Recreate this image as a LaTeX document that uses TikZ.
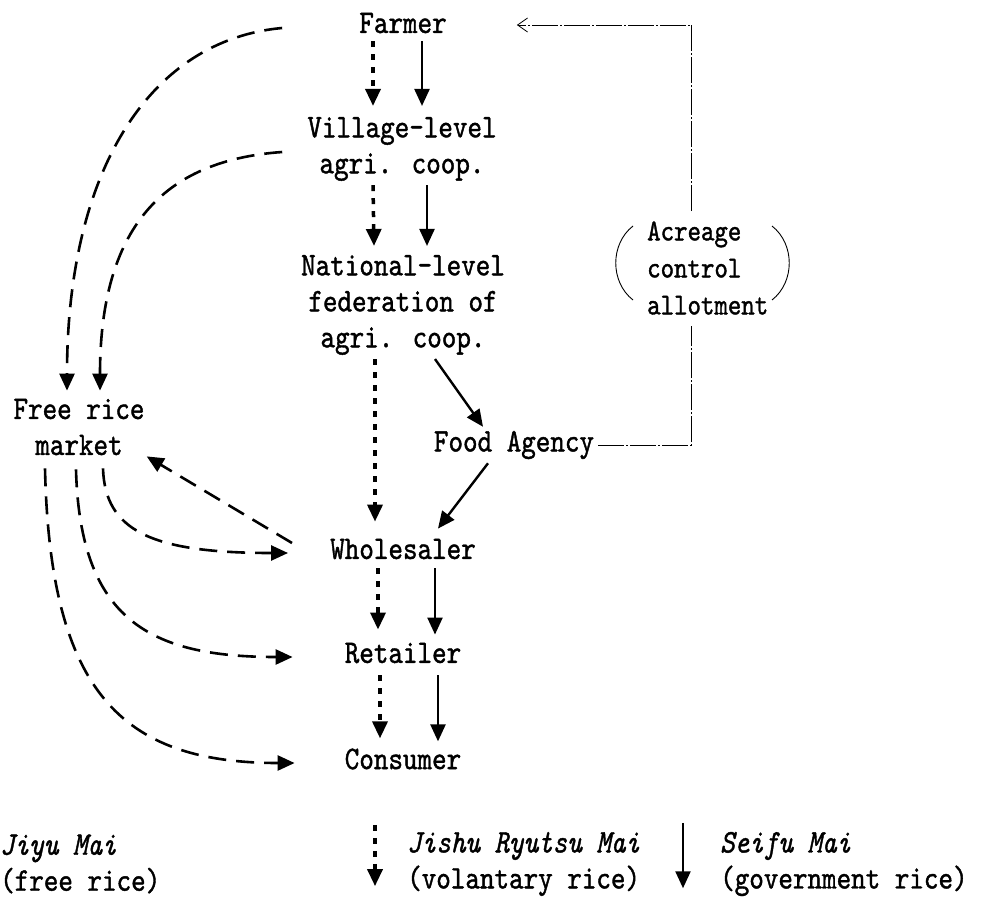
\documentclass[tikz,border=0pt]{standalone}
\usepackage{fontspec}
\newfontfamily\flowfont[ItalicFont=lmmono10-italic.otf,FakeStretch=0.84,FakeBold=1.2]{lmmono10-regular.otf}
\usetikzlibrary{arrows.meta}

\begin{document}
\begin{tikzpicture}[x=1pt,y=-1pt,
  every node/.style={font=\flowfont\fontsize{33}{36}\selectfont,align=center,inner sep=4pt},
  govtflow/.style={line width=2.4pt,-{Triangle[length=17pt,width=15pt]}},
  volflow/.style={line width=3.5pt,dash pattern=on 6pt off 7pt,-{Triangle[length=17pt,width=15pt]}},
  freeflow/.style={line width=2.6pt,dash pattern=on 18pt off 10pt,-{Triangle[length=17pt,width=15pt]}},
  ctrlline/.style={line width=0.8pt,dash pattern=on 26pt off 2pt on 2pt off 2pt},
  bracket/.style={line width=0.9pt}
]
  \useasboundingbox (0,0) rectangle (996,918);

  % channels
  \node (farmer) at (403,23) {Farmer};
  \node (village) at (402,149) {Village-level\\agri. coop.};
  \node (national) at (403,305) {National-level\\federation of\\agri. coop.};
  \node (freerice) at (79,427) {Free rice\\market};
  \node (food) at (514,445) {Food Agency};
  \node (wholesaler) at (403,549) {Wholesaler};
  \node (retailer) at (403,653) {Retailer};
  \node (consumer) at (403,759) {Consumer};
  \node[font=\flowfont\fontsize{30.5}{37}\selectfont,align=left,anchor=west] (acreage)
    at (643,268) {Acreage\\control\\allotment};

  % bracket round the acreage note
  \draw[bracket] (633,226) .. controls (610,244) and (610,282) .. (633,300);
  \draw[bracket] (772,226) .. controls (795,244) and (795,282) .. (772,300);

  % Jishu Ryutsu Mai
  \draw[volflow] ([xshift=-30pt,yshift=-4pt]farmer.south) -- ([xshift=-29pt,yshift=7pt]village.north);
  \draw[volflow] ([xshift=-29pt]village.south) -- ([xshift=-29pt,yshift=5pt]national.north);
  \draw[volflow] ([xshift=-28pt]national.south) -- ([xshift=-28pt,yshift=13pt]wholesaler.north);
  \draw[volflow] ([xshift=-25pt,yshift=-5pt]wholesaler.south) -- ([xshift=-25pt,yshift=9pt]retailer.north);
  \draw[volflow] ([xshift=-23pt,yshift=-8pt]retailer.south) -- ([xshift=-23pt,yshift=6pt]consumer.north);

  % Seifu Mai
  \draw[govtflow] ([xshift=19pt,yshift=-4pt]farmer.south) -- ([xshift=20pt,yshift=7pt]village.north);
  \draw[govtflow] ([xshift=25pt]village.south) -- ([xshift=24pt,yshift=5pt]national.north);
  \draw[govtflow] ([xshift=32pt]national.south) -- ([xshift=-31pt]food.north);
  \draw[govtflow] ([xshift=-26pt]food.south) -- ([xshift=35pt,yshift=6pt]wholesaler.north);
  \draw[govtflow] ([xshift=32pt,yshift=-5pt]wholesaler.south) -- ([xshift=32pt,yshift=4pt]retailer.north);
  \draw[govtflow] ([xshift=35pt,yshift=-8pt]retailer.south) -- ([xshift=35pt,yshift=3pt]consumer.north);

  % Jiyu Mai
  \draw[freeflow] ([xshift=-73pt,yshift=-5pt]farmer.west)
    .. controls (150,40) and (67,170) .. ([xshift=-12pt,yshift=4pt]freerice.north);
  \draw[freeflow] ([xshift=-21pt,yshift=-3pt]village.west)
    .. controls (170,160) and (100,220) .. ([xshift=21pt,yshift=4pt]freerice.north);
  \draw[freeflow] ([xshift=-34pt,yshift=6pt]wholesaler.west) -- ([xshift=-2pt,yshift=3pt]freerice.south east);
  \draw[freeflow] ([xshift=24pt,yshift=-9pt]freerice.south)
    .. controls (105,530) and (150,553) .. ([xshift=-38pt,yshift=-4pt]wholesaler.west);
  \draw[freeflow] ([xshift=-3pt,yshift=-10pt]freerice.south)
    .. controls (80,620) and (150,657) .. ([xshift=-48pt,yshift=-4pt]retailer.west);
  \draw[freeflow] ([xshift=-34pt,yshift=-9pt]freerice.south)
    .. controls (50,690) and (120,763) .. ([xshift=-46pt,yshift=-4pt]consumer.west);

  % acreage control
  \draw[ctrlline] (food.east) -| ([xshift=-16pt,yshift=-7pt]acreage.south);
  \draw[ctrlline,-{Straight Barb[length=10pt,width=14pt]}]
    ([xshift=-16pt,yshift=6pt]acreage.north) |- ([xshift=66pt,yshift=-2pt]farmer.east);

  % legend
  \node[align=left,anchor=west] (jiyu) at (-4,864) {\textit{Jiyu Mai}\\(free rice)};
  \node[align=left,anchor=west] (jishu) at (403,864) {\textit{Jishu Ryutsu Mai}\\(volantary rice)};
  \node[align=left,anchor=west] (seifu) at (716,864) {\textit{Seifu Mai}\\(government rice)};
  \draw[volflow] ([xshift=-28pt,yshift=3pt]jishu.north west) -- ([xshift=-28pt,yshift=14pt]jishu.south west);
  \draw[govtflow] ([xshift=-33pt,yshift=5pt]seifu.north west) -- ([xshift=-33pt,yshift=12pt]seifu.south west);
\end{tikzpicture}
\end{document}
